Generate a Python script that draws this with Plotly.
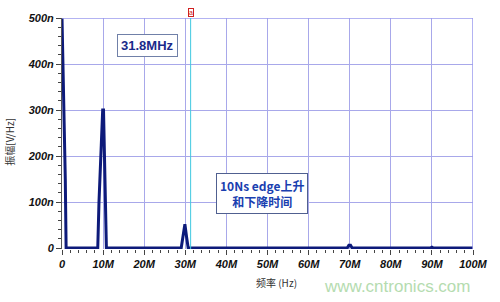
import plotly.graph_objects as go

# frequency in MHz, amplitude in nV/Hz
freq = [0, 0.2, 0.5, 0.8, 1.0, 8.7, 9.0, 9.3, 9.6, 9.9, 10.1, 10.3, 10.5, 10.8,
        29.0, 29.5, 29.9, 30.3, 30.7, 69.4, 69.8, 70.2, 70.6, 89.6, 90.0, 90.4, 100]
amp = [500, 420, 260, 150, 0, 0, 100, 180, 230, 300, 300, 200, 120, 0,
       0, 30, 52, 25, 0, 0, 6, 6, 0, 0, 2, 0, 0]

x_ticks = [0, 10, 20, 30, 40, 50, 60, 70, 80, 90, 100]
x_labels = ["0", "10M", "20M", "30M", "40M", "50M", "60M", "70M", "80M", "90M", "100M"]
y_ticks = [0, 100, 200, 300, 400, 500]
y_labels = ["0", "100n", "200n", "300n", "400n", "500n"]
marker_x = 31.3

tickfont = dict(family="Liberation Sans", size=11, color="#111111", weight="bold", style="italic")

fig = go.Figure()
fig.add_trace(go.Scatter(x=freq, y=amp, mode="lines",
                         line=dict(color="#0d1a7a", width=3), hoverinfo="skip"))

fig.update_layout(
    width=500, height=302,
    margin=dict(l=62, r=24, t=15, b=53),
    paper_bgcolor="white", plot_bgcolor="white",
    showlegend=False,
    xaxis=dict(range=[0, 100], tickvals=x_ticks, ticktext=x_labels, tickfont=tickfont,
               showgrid=True, gridcolor="#a8a8ea", gridwidth=1,
               ticks="outside", ticklen=5, tickcolor="#444", zeroline=False,
               showline=False,
               minor=dict(dtick=2, ticks="outside", ticklen=3, tickcolor="#444", showgrid=False)),
    yaxis=dict(range=[-2, 500], tickvals=y_ticks, ticktext=y_labels, tickfont=tickfont,
               showgrid=True, gridcolor="#a8a8ea", gridwidth=1,
               ticks="outside", ticklen=5, tickcolor="#444", zeroline=False,
               showline=True, linecolor="#555", linewidth=1,
               minor=dict(tick0=0, dtick=20, ticks="outside", ticklen=3, tickcolor="#444", showgrid=False)),
)

# plot border (top and right)
fig.add_shape(type="line", xref="x", yref="y", x0=0, x1=100, y0=500, y1=500,
              line=dict(color="#9a9aee", width=1.5))
fig.add_shape(type="line", xref="x", yref="y", x0=100, x1=100, y0=-2, y1=500,
              line=dict(color="#9a9aee", width=1.5))
# cursor line
fig.add_shape(type="line", xref="x", yref="y", x0=marker_x, x1=marker_x, y0=-2, y1=500,
              line=dict(color="#40c8e0", width=1))
fig.add_annotation(x=marker_x, y=1.0, xref="x", yref="paper", yanchor="bottom", yshift=1,
                   text="a", showarrow=False, font=dict(size=7, color="#d02020", family="Liberation Sans"),
                   bordercolor="#d02020", borderwidth=1, borderpad=0, bgcolor="white")

fig.add_annotation(x=20.85, y=441, xref="x", yref="y", text="<b>31.8MHz</b>", showarrow=False,
                   font=dict(size=13, color="#1a2a8a", family="Liberation Sans"),
                   bordercolor="#7080a8", borderwidth=1, borderpad=3, bgcolor="white")
fig.add_annotation(x=48.6, y=118, xref="x", yref="y",
                   text="<b>10Ns edge上升<br>和下降时间</b>", showarrow=False,
                   font=dict(size=12, color="#1a3fb0", family="Noto Sans CJK SC"),
                   bordercolor="#506090", borderwidth=1, borderpad=3, bgcolor="white")

# axis titles
fig.add_annotation(x=-0.128, y=0.466, xref="paper", yref="paper", xanchor="center", yanchor="middle",
                   text="振幅[V/Hz]", textangle=-90,
                   showarrow=False, font=dict(size=10, color="#333", family="Noto Sans CJK SC"))
fig.add_annotation(x=0.522, y=-0.145, xref="paper", yref="paper", xanchor="center", yanchor="middle",
                   text="频率 (Hz)", showarrow=False,
                   font=dict(size=10, color="#333", family="Noto Sans CJK SC"))
# watermark
fig.add_annotation(x=0.816, y=-0.162, xref="paper", yref="paper", xanchor="center", yanchor="middle",
                   text="www.cntronics.com", showarrow=False,
                   font=dict(size=17, color="#b5dcb0", family="Liberation Sans"))

fig.write_html("out.html")
